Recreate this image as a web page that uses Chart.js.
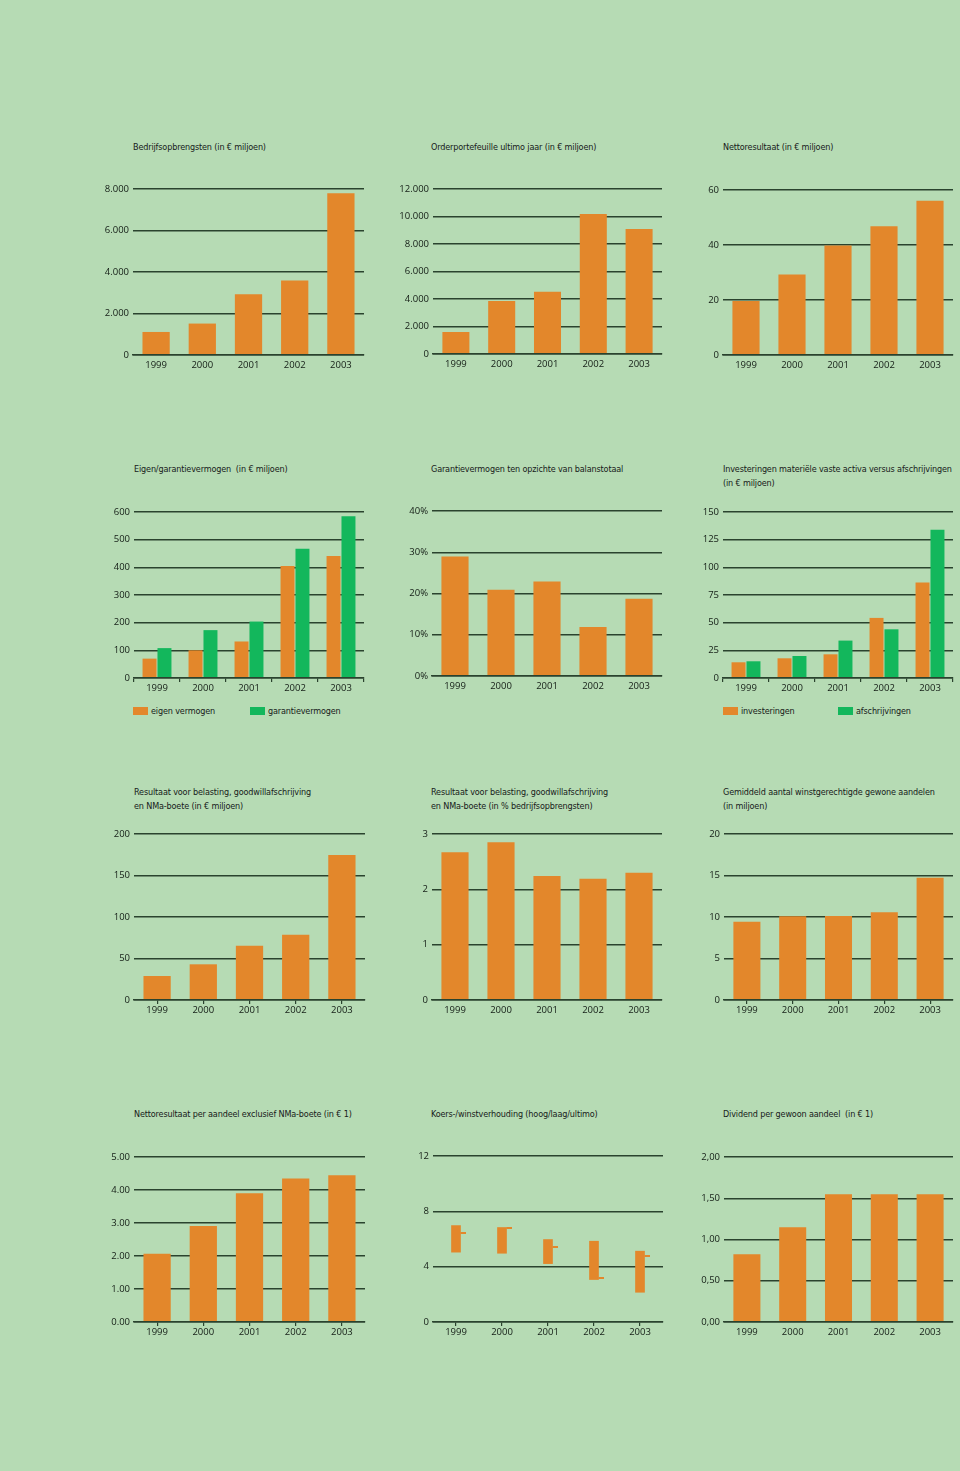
<!DOCTYPE html>
<html>
<head>
<meta charset="utf-8">
<script src="https://cdn.jsdelivr.net/npm/chart.js@4.4.1/dist/chart.umd.min.js"></script>
<style>
  body { margin: 0; background: #b6dbb4; }
  #page { position: relative; width: 960px; height: 1471px; background: #b6dbb4; overflow: hidden;
          font-family: "DejaVu Sans Condensed", "Liberation Sans Narrow", "Open Sans", sans-serif; color: #16201a; }
  .title { position: absolute; font-size: 9px; line-height: 13.5px; letter-spacing: -0.15px; white-space: pre; }
  .legend-box { position: absolute; width: 15px; height: 8px; }
  .legend-text { position: absolute; font-size: 9px; line-height: 12px; letter-spacing: -0.15px; white-space: pre; }
  canvas { position: absolute; }
</style>
</head>
<body>
<div id="page"></div>
<script>
const years = ["1999", "2000", "2001", "2002", "2003"];

// row 1
const bedrijfsopbrengsten = [1110, 1515, 2930, 3595, 7790];
const orderportefeuille = [1600, 3850, 4520, 10180, 9090];
const nettoresultaat = [19.6, 29.3, 39.8, 46.8, 56.1];
// row 2
const eigenVermogen = [70, 100, 132, 405, 441];
const garantievermogen = [108, 173, 204, 467, 585];
const garantiePct = [29.0, 20.9, 22.9, 11.9, 18.7];
const investeringen = [14.2, 17.8, 21.4, 54.3, 86.3];
const afschrijvingen = [15.1, 19.9, 33.8, 44.0, 134];
// row 3
const resultaatVoorBelasting = [28.9, 43.0, 65.5, 78.7, 174.7];
const resultaatPct = [2.67, 2.85, 2.24, 2.19, 2.30];
const aandelen = [9.43, 10.08, 10.12, 10.56, 14.74];
// row 4
const winstPerAandeel = [2.07, 2.91, 3.90, 4.35, 4.45];
const kwHoog = [6.97, 6.83, 5.96, 5.84, 5.12];
const kwLaag = [5.05, 4.97, 4.22, 3.07, 2.15];
const kwUltimo = [6.42, 6.78, 5.41, 3.19, 4.80];
const dividend = [0.82, 1.15, 1.55, 1.55, 1.55];

const ORANGE = "#e3872b";
const GREEN = "#13b75c";
const LINE = "#2a432e";
const TEXT = "#141d16";

const thousands = (v) => String(v).replace(/\B(?=(\d{3})+(?!\d))/g, ".");
const pct = (v) => v + "%";
const dec2 = (v) => v.toFixed(2);
const dec2comma = (v) => v.toFixed(2).replace(".", ",");

// small dash to the right of the bar, used as point style for "ultimo"
const dash = document.createElement("canvas");
dash.width = 19;
dash.height = 2;
const dctx = dash.getContext("2d");
dctx.fillStyle = ORANGE;
dctx.fillRect(14, 0, 5, 2);

const panels = [
  { title: ["Bedrijfsopbrengsten (in € miljoen)"], tx: 133, ty: 141,
    area: { l: 133, r: 364, t: 189, b: 355 }, max: 8000, step: 2000, fmt: thousands, xTicks: "none",
    series: [{ label: "", data: bedrijfsopbrengsten, color: ORANGE }] },
  { title: ["Orderportefeuille ultimo jaar (in € miljoen)"], tx: 431, ty: 141,
    area: { l: 433, r: 662, t: 189, b: 354 }, max: 12000, step: 2000, fmt: thousands, xTicks: "none",
    series: [{ label: "", data: orderportefeuille, color: ORANGE }] },
  { title: ["Nettoresultaat (in € miljoen)"], tx: 723, ty: 141,
    area: { l: 723, r: 953, t: 190, b: 355 }, max: 60, step: 20, fmt: String, xTicks: "none",
    series: [{ label: "", data: nettoresultaat, color: ORANGE }] },

  { title: ["Eigen/garantievermogen  (in € miljoen)"], tx: 134, ty: 463,
    area: { l: 134, r: 364, t: 512, b: 678 }, max: 600, step: 100, fmt: String, xTicks: "between",
    series: [{ label: "eigen vermogen", data: eigenVermogen, color: ORANGE },
             { label: "garantievermogen", data: garantievermogen, color: GREEN }],
    legend: { y: 707, x: [133, 250] } },
  { title: ["Garantievermogen ten opzichte van balanstotaal"], tx: 431, ty: 463,
    area: { l: 432, r: 662, t: 511, b: 676 }, max: 40, step: 10, fmt: pct, xTicks: "none",
    series: [{ label: "", data: garantiePct, color: ORANGE }] },
  { title: ["Investeringen materiële vaste activa versus afschrijvingen", "(in € miljoen)"], tx: 723, ty: 463,
    area: { l: 723, r: 953, t: 512, b: 678 }, max: 150, step: 25, fmt: String, xTicks: "between",
    series: [{ label: "investeringen", data: investeringen, color: ORANGE },
             { label: "afschrijvingen", data: afschrijvingen, color: GREEN }],
    legend: { y: 707, x: [723, 838] } },

  { title: ["Resultaat voor belasting, goodwillafschrijving", "en NMa-boete (in € miljoen)"], tx: 134, ty: 786,
    area: { l: 134, r: 365, t: 834, b: 1000 }, max: 200, step: 50, fmt: String, xTicks: "center",
    series: [{ label: "", data: resultaatVoorBelasting, color: ORANGE }] },
  { title: ["Resultaat voor belasting, goodwillafschrijving", "en NMa-boete (in % bedrijfsopbrengsten)"], tx: 431, ty: 786,
    area: { l: 432, r: 662, t: 834, b: 1000 }, max: 3, step: 1, fmt: String, xTicks: "none",
    series: [{ label: "", data: resultaatPct, color: ORANGE }] },
  { title: ["Gemiddeld aantal winstgerechtigde gewone aandelen", "(in miljoen)"], tx: 723, ty: 786,
    area: { l: 724, r: 953, t: 834, b: 1000 }, max: 20, step: 5, fmt: String, xTicks: "center",
    series: [{ label: "", data: aandelen, color: ORANGE }] },

  { title: ["Nettoresultaat per aandeel exclusief NMa-boete (in € 1)"], tx: 134, ty: 1108,
    area: { l: 134, r: 365, t: 1157, b: 1322 }, max: 5, step: 1, fmt: dec2, xTicks: "center",
    series: [{ label: "", data: winstPerAandeel, color: ORANGE }] },
  { title: ["Koers-/winstverhouding (hoog/laag/ultimo)"], tx: 431, ty: 1108,
    area: { l: 433, r: 663, t: 1156, b: 1322 }, max: 12, step: 4, fmt: String, xTicks: "center",
    floating: true },
  { title: ["Dividend per gewoon aandeel  (in € 1)"], tx: 723, ty: 1108,
    area: { l: 724, r: 953, t: 1157, b: 1322 }, max: 2, step: 0.5, fmt: dec2comma, xTicks: "none",
    series: [{ label: "", data: dividend, color: ORANGE }] },
];

const page = document.getElementById("page");
const YW = 45, PAD_T = 10, PAD_R = 6, XH = 25;

const buildDatasets = (p) => {
  if (p.floating) {
    return [
      { label: "hoog/laag", data: years.map((y, i) => [kwLaag[i], kwHoog[i]]),
        backgroundColor: ORANGE, barThickness: 9 },
      { type: "line", label: "ultimo", data: kwUltimo, showLine: false,
        pointStyle: dash, pointRadius: 1, pointHoverRadius: 1 },
    ];
  }
  const grouped = p.series.length > 1;
  return p.series.map((s) => ({
    label: s.label,
    data: s.data,
    backgroundColor: s.color,
    categoryPercentage: grouped ? 0.65 : 0.59,
    barPercentage: grouped ? 0.935 : 1,
  }));
};

panels.forEach((p) => {
  const t = document.createElement("div");
  t.className = "title";
  t.style.left = p.tx + "px";
  t.style.top = p.ty + "px";
  t.textContent = p.title.join("\n");
  page.appendChild(t);

  const a = p.area;
  const canvas = document.createElement("canvas");
  const w = a.r - a.l + YW + PAD_R;
  const h = a.b - a.t + PAD_T + XH;
  canvas.width = w;
  canvas.height = h;
  canvas.style.width = w + "px";
  canvas.style.height = h + "px";
  canvas.style.left = a.l - YW + "px";
  canvas.style.top = a.t - PAD_T + "px";
  page.appendChild(canvas);

  const tickFont = { family: "Open Sans", size: 9.5 };
  new Chart(canvas, {
    type: "bar",
    data: { labels: years, datasets: buildDatasets(p) },
    options: {
      responsive: false,
      animation: false,
      layout: { padding: { top: PAD_T, right: PAD_R, left: 0, bottom: 0 } },
      plugins: { legend: { display: false }, tooltip: { enabled: false } },
      scales: {
        x: {
          grid: {
            drawOnChartArea: false,
            drawTicks: p.xTicks !== "none",
            tickLength: 4,
            offset: p.xTicks === "between",
            color: LINE,
            lineWidth: 1.2,
          },
          border: { display: true, color: LINE, width: 1.5, z: 1 },
          ticks: { color: TEXT, font: tickFont, padding: p.xTicks === "none" ? 5 : 1, maxRotation: 0 },
          afterFit: (s) => { s.height = XH; },
        },
        y: {
          min: 0,
          max: p.max,
          grid: { color: LINE, lineWidth: 1.5, drawTicks: false },
          border: { display: false },
          ticks: { stepSize: p.step, padding: 4, color: TEXT, font: tickFont, callback: (v) => p.fmt(v) },
          afterFit: (s) => { s.width = YW; },
        },
      },
    },
  });

  if (p.legend) {
    p.series.forEach((s, i) => {
      const box = document.createElement("div");
      box.className = "legend-box";
      box.style.background = s.color;
      box.style.left = p.legend.x[i] + "px";
      box.style.top = p.legend.y + "px";
      page.appendChild(box);
      const lt = document.createElement("div");
      lt.className = "legend-text";
      lt.style.left = p.legend.x[i] + 18 + "px";
      lt.style.top = p.legend.y - 2 + "px";
      lt.textContent = s.label;
      page.appendChild(lt);
    });
  }
});
</script>
</body>
</html>
